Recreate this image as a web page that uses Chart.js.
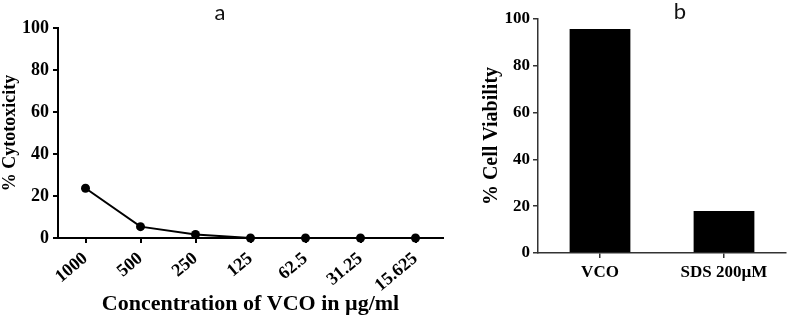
<!DOCTYPE html>
<html>
<head>
<meta charset="utf-8">
<script src="https://cdn.jsdelivr.net/npm/chart.js@4/dist/chart.umd.min.js"></script>
<style>
  html, body { margin: 0; padding: 0; background: #fff; }
  #wrap { position: relative; width: 790px; height: 315px; }
  .panel { position: absolute; top: 0; height: 315px; }
  #panelA { left: 0; width: 460px; }
  #panelB { left: 470px; width: 320px; }
</style>
</head>
<body>
<div id="wrap">
  <div class="panel" id="panelA"><canvas id="chartA"></canvas></div>
  <div class="panel" id="panelB"><canvas id="chartB"></canvas></div>
</div>
<script>
// panel a: cytotoxicity vs concentration
const concLabels = ['1000', '500', '250', '125', '62.5', '31.25', '15.625'];
const cytotoxicity = [23.7, 5.4, 1.7, 0, 0, 0, 0];

// panel b: cell viability
const viabilityLabels = ['VCO', 'SDS 200µM'];
const viability = [95.7, 17.9];

const SERIF = "'Liberation Serif', 'Times New Roman', serif";

// draws the small panel letter ("a", "b") at a fixed spot on the canvas
const panelTag = {
  id: 'panelTag',
  afterDraw(chart, args, opts) {
    const ctx = chart.ctx;
    ctx.save();
    ctx.font = '22px Lato, "Open Sans", sans-serif';
    ctx.fillStyle = '#111';
    ctx.textAlign = 'center';
    ctx.textBaseline = 'middle';
    ctx.fillText(opts.text, opts.x, opts.y);
    ctx.restore();
  }
};

function axisTicks(size) {
  return { color: '#000', font: { family: SERIF, size: size, weight: 'bold' } };
}

new Chart(document.getElementById('chartA'), {
  type: 'line',
  data: {
    labels: concLabels,
    datasets: [{
      data: cytotoxicity,
      borderColor: '#000',
      backgroundColor: '#000',
      borderWidth: 2,
      pointRadius: 4.5,
      pointBackgroundColor: '#000',
      pointBorderWidth: 0,
      tension: 0,
      clip: false,
    }]
  },
  plugins: [panelTag],
  options: {
    responsive: true,
    maintainAspectRatio: false,
    animation: false,
    layout: { padding: { top: 28, right: 17, bottom: 0, left: 0 } },
    plugins: {
      legend: { display: false },
      tooltip: { enabled: false },
      panelTag: { text: 'a', x: 220, y: 13 },
    },
    scales: {
      x: {
        offset: true,
        grid: { offset: false, drawOnChartArea: false, drawTicks: true, tickLength: 5, color: '#000', lineWidth: 2 },
        border: { color: '#000', width: 2 },
        ticks: Object.assign(axisTicks(18), { minRotation: 40, maxRotation: 40, padding: 5, labelOffset: 0 }),
        title: {
          display: true,
          text: 'Concentration of VCO in µg/ml',
          color: '#000',
          font: { family: SERIF, size: 22, weight: 'bold', lineHeight: 1 },
          padding: { top: 0, bottom: 0 },
        },
        afterFit(scale) { scale.height = 77; },
      },
      y: {
        min: 0,
        max: 100,
        grid: { drawOnChartArea: false, drawTicks: true, tickLength: 5, color: '#000', lineWidth: 2 },
        border: { color: '#000', width: 2 },
        ticks: Object.assign(axisTicks(18), { stepSize: 20, padding: 4 }),
        title: {
          display: true,
          text: '% Cytotoxicity',
          color: '#000',
          font: { family: SERIF, size: 18, weight: 'bold' },
          padding: { top: 0, bottom: 0 },
        },
        afterFit(scale) { scale.width = 58; },
      }
    }
  }
});

new Chart(document.getElementById('chartB'), {
  type: 'bar',
  data: {
    labels: viabilityLabels,
    datasets: [{
      data: viability,
      backgroundColor: '#000',
      borderColor: '#000',
      borderWidth: 0,
      categoryPercentage: 1,
      barPercentage: 0.49,
    }]
  },
  plugins: [panelTag],
  options: {
    responsive: true,
    maintainAspectRatio: false,
    animation: false,
    layout: { padding: { top: 19, right: 4, bottom: 0, left: 0 } },
    plugins: {
      legend: { display: false },
      tooltip: { enabled: false },
      panelTag: { text: 'b', x: 210, y: 12 },
    },
    scales: {
      x: {
        grid: { offset: false, drawOnChartArea: false, drawTicks: true, tickLength: 5, color: '#333', lineWidth: 1.5 },
        border: { color: '#333', width: 1.5 },
        ticks: Object.assign(axisTicks(17), { maxRotation: 0, padding: 4 }),
        afterFit(scale) { scale.height = 62; },
      },
      y: {
        min: 0,
        max: 100,
        grid: { drawOnChartArea: false, drawTicks: true, tickLength: 5, color: '#333', lineWidth: 1.5 },
        border: { color: '#333', width: 1.5 },
        ticks: Object.assign(axisTicks(17), { stepSize: 20, padding: 3 }),
        title: {
          display: true,
          text: '% Cell Viability',
          color: '#000',
          font: { family: SERIF, size: 20, weight: 'bold' },
          padding: { top: 10, bottom: 0 },
        },
        afterFit(scale) { scale.width = 68; },
      }
    }
  }
});
</script>
</body>
</html>
